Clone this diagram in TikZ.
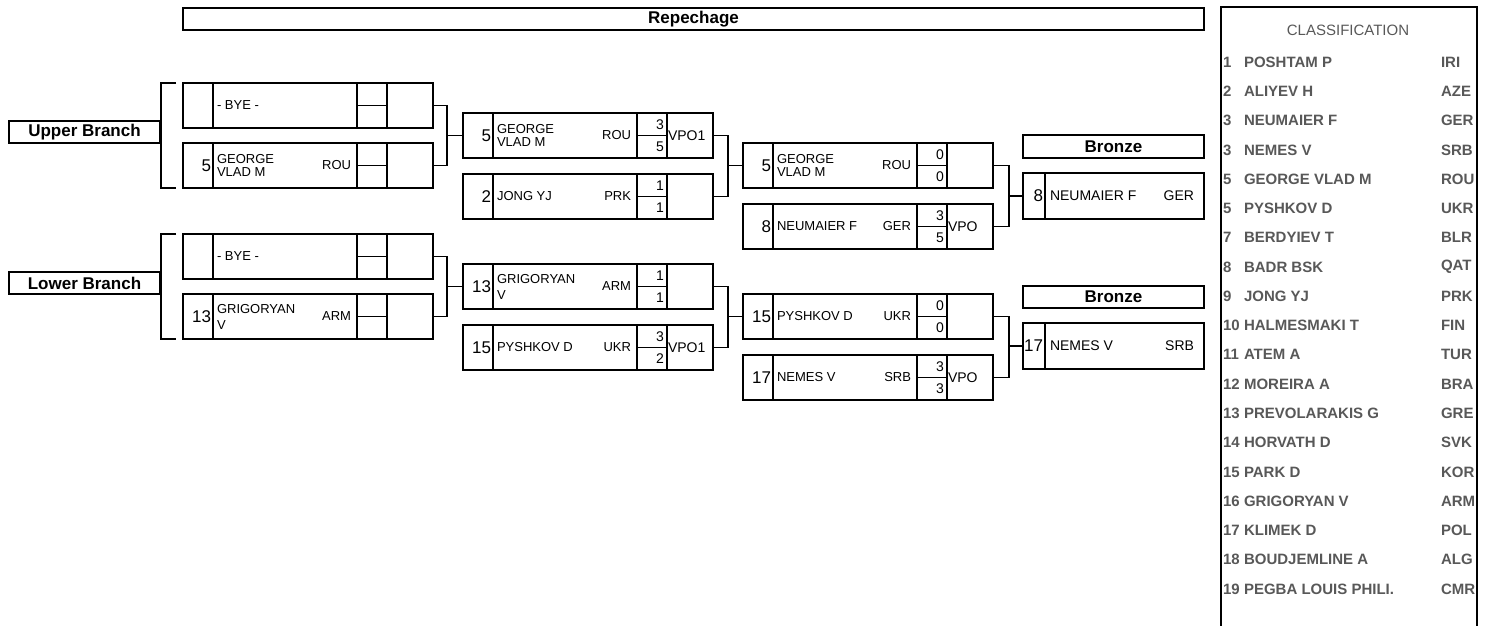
\documentclass[tikz,border=0pt]{standalone}
\usepackage{fontspec}
\setmainfont{Liberation Sans}
\usetikzlibrary{calc}
\definecolor{cgray}{RGB}{88,88,88}
\newcommand{\fsz}[1]{\fontsize{#1}{#1}\selectfont}
\tikzset{
  ln/.style={line width=1.4},
  mbox/.style={draw, line width=1.4, minimum width=250, minimum height=45, anchor=north west, inner sep=0, outer sep=0},
  rbox/.style={draw, line width=1.4, minimum width=181, minimum height=46, anchor=north west, inner sep=0, outer sep=0},
  hbox/.style={draw, line width=1.4, anchor=north west, inner sep=0, outer sep=0, font=\fsz{17}\bfseries},
  txt/.style={inner sep=0, outer sep=0},
  seedt/.style={txt, anchor=east, font=\fsz{17}},
  namet/.style={txt, anchor=west, font=\fsz{13}, align=left},
  ctryt/.style={txt, anchor=east, font=\fsz{13}},
  scoret/.style={txt, anchor=east, font=\fsz{14}},
  rest/.style={txt, anchor=west, font=\fsz{14}},
  tickmk/.style={line width=2.6},
  clt/.style={txt, anchor=west, font=\fsz{15}\bfseries, text=cgray},
}
% name, x, y, mark offset
\newcommand{\matchbox}[4]{%
  \node[mbox] (#1) at (#2,#3) {};
  \draw[ln] ($(#1.north west)+(30,0)$) -- ($(#1.south west)+(30,0)$);
  \draw[ln] ($(#1.north west)+(174,0)$) -- ($(#1.south west)+(174,0)$);
  \draw[ln] ($(#1.north west)+(204,0)$) -- ($(#1.south west)+(204,0)$);
  \draw[ln] ($(#1.west)+(174,0)$) -- ($(#1.west)+(204,0)$);
  \draw[tickmk] ($(#1.north west)+(#4,0)$) -- ++(7,0);
  \draw[tickmk] ($(#1.south west)+(#4,0)$) -- ++(7,0);
}
% box, seed, name, country, score1, score2, result
\newcommand{\entry}[7]{%
  \node[seedt] at ($(#1.west)+(28,0)$) {#2};
  \node[namet] at ($(#1.west)+(34,0)$) {#3};
  \node[ctryt] at ($(#1.west)+(168,0)$) {#4};
  \node[scoret] at ($(#1.north west)+(201,12)$) {#5};
  \node[scoret] at ($(#1.south west)+(201,-11)$) {#6};
  \node[rest] at ($(#1.west)+(205,0)$) {#7};
}
% top, bottom, next, offset
\newcommand{\joinpair}[4]{%
  \draw[ln] (#1.east) -- ++(#4,0) coordinate (#1j) |- (#2.east);
  \draw[ln] (#3.west) -- (#3.west -| #1j);
}
\begin{document}
\begin{tikzpicture}[x=1pt,y=-1pt]
\useasboundingbox (0,0) rectangle (1488,625);

% headers
\node[hbox, minimum width=1021, minimum height=22] (rep) at (183,8) {Repechage};
\node[hbox, minimum width=151, minimum height=22] (ub) at (9,121) {Upper Branch};
\node[hbox, minimum width=151, minimum height=22] (lb) at (9,272) {Lower Branch};
\node[hbox, minimum width=181, minimum height=23] (bz1) at (1023,135) {Bronze};
\node[hbox, minimum width=181, minimum height=22] (bz2) at (1023,286) {Bronze};

% upper branch
\matchbox{u1}{183}{83}{127}
\matchbox{u2}{183}{143}{127}
\matchbox{u3}{463}{113}{121}
\matchbox{u4}{463}{174}{121}
\matchbox{u5}{743}{143}{121}
\matchbox{u6}{743}{204}{121}
\node[rbox] (u7) at (1023,173) {};
\draw[ln] ($(u7.north west)+(22,0)$) -- ($(u7.south west)+(22,0)$);
\draw[tickmk] ($(u7.north west)+(136,0)$) -- ++(7,0);
\draw[tickmk] ($(u7.south west)+(136,0)$) -- ++(7,0);

% lower branch
\matchbox{l1}{183}{234}{127}
\matchbox{l2}{183}{294}{127}
\matchbox{l3}{463}{264}{121}
\matchbox{l4}{463}{325}{121}
\matchbox{l5}{743}{294}{121}
\matchbox{l6}{743}{355}{121}
\node[rbox] (l7) at (1023,323) {};
\draw[ln] ($(l7.north west)+(22,0)$) -- ($(l7.south west)+(22,0)$);
\draw[tickmk] ($(l7.north west)+(136,0)$) -- ++(7,0);
\draw[tickmk] ($(l7.south west)+(136,0)$) -- ++(7,0);

% brackets
\draw[ln] ($(u1.north west)+(-7,0)$) -- ++(-15,0) coordinate (ubk) |- ($(u2.south west)+(-7,0)$);
\draw[ln] ($(l1.north west)+(-7,0)$) -- ++(-15,0) coordinate (lbk) |- ($(l2.south west)+(-7,0)$);

% connectors
\joinpair{u1}{u2}{u3}{14}
\joinpair{u3}{u4}{u5}{15}
\joinpair{u5}{u6}{u7}{16}
\joinpair{l1}{l2}{l3}{14}
\joinpair{l3}{l4}{l5}{15}
\joinpair{l5}{l6}{l7}{16}

% entries
\node[namet] at ($(u1.west)+(34,0)$) {- BYE -};
\entry{u2}{5}{GEORGE\\VLAD M}{ROU}{}{}{}
\entry{u3}{5}{GEORGE\\VLAD M}{ROU}{3}{5}{VPO1}
\entry{u4}{2}{JONG YJ}{PRK}{1}{1}{}
\entry{u5}{5}{GEORGE\\VLAD M}{ROU}{0}{0}{}
\entry{u6}{8}{NEUMAIER F}{GER}{3}{5}{VPO}
\node[seedt] at ($(u7.west)+(20,0)$) {8};
\node[rest] at ($(u7.west)+(27,0)$) {NEUMAIER F};
\node[txt, anchor=east, font=\fsz{14}] at ($(u7.east)+(-10,0)$) {GER};

\node[namet] at ($(l1.west)+(34,0)$) {- BYE -};
\entry{l2}{13}{GRIGORYAN\\[3pt]V}{ARM}{}{}{}
\entry{l3}{13}{GRIGORYAN\\[3pt]V}{ARM}{1}{1}{}
\entry{l4}{15}{PYSHKOV D}{UKR}{3}{2}{VPO1}
\entry{l5}{15}{PYSHKOV D}{UKR}{0}{0}{}
\entry{l6}{17}{NEMES V}{SRB}{3}{3}{VPO}
\node[seedt] at ($(l7.west)+(20,0)$) {17};
\node[rest] at ($(l7.west)+(27,0)$) {NEMES V};
\node[txt, anchor=east, font=\fsz{14}] at ($(l7.east)+(-10,0)$) {SRB};

% classification
\draw[ln] (1221,626) -- (1221,7) -- (1477,7) -- (1477,626);
\node[txt, font=\fsz{15}, text=cgray] (clh) at (1348,30) {CLASSIFICATION};
\foreach \r/\n/\c [count=\i from 0] in {1/POSHTAM P/IRI, 2/ALIYEV H/AZE, 3/NEUMAIER F/GER, 3/NEMES V/SRB, 5/GEORGE VLAD M/ROU, 5/PYSHKOV D/UKR, 7/BERDYIEV T/BLR, 8/BADR BSK/QAT, 9/JONG YJ/PRK, 10/HALMESMAKI T/FIN, 11/ATEM A/TUR, 12/MOREIRA A/BRA, 13/PREVOLARAKIS G/GRE, 14/HORVATH D/SVK, 15/PARK D/KOR, 16/GRIGORYAN V/ARM, 17/KLIMEK D/POL, 18/BOUDJEMLINE A/ALG, 19/PEGBA LOUIS PHILI./CMR} {
  \node[clt] (cr\i) at (1223,{62+29.28*\i}) {\r};
  \node[clt] (cn\i) at (1244,{62+29.28*\i}) {\n};
  \node[clt] (cc\i) at (1441,{62+29.28*\i}) {\c};
}
\end{tikzpicture}
\end{document}
